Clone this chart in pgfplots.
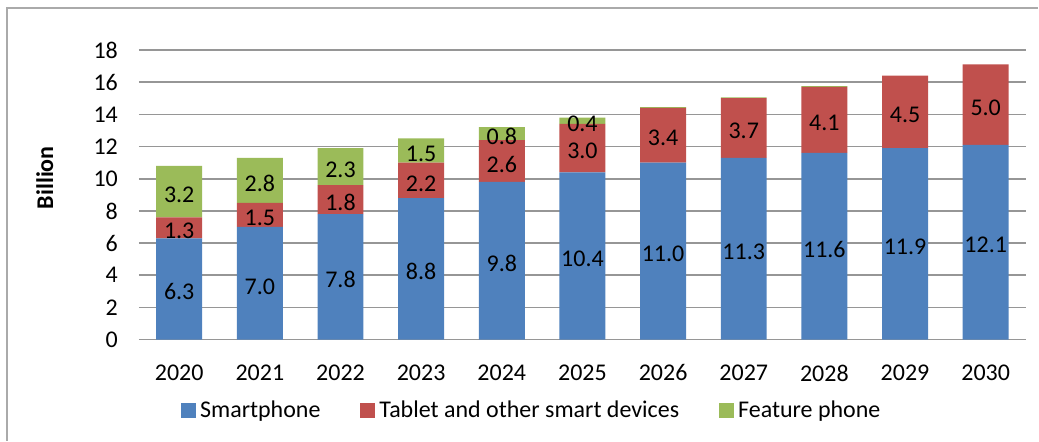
\documentclass[border=0pt]{standalone}
\usepackage{fontspec}
\setmainfont{Carlito}
\usepackage{pgfplots}
\pgfplotsset{compat=1.18}

\definecolor{cSmart}{RGB}{79,129,189}
\definecolor{cTab}{RGB}{192,80,77}
\definecolor{cFeat}{RGB}{155,187,89}
\definecolor{cGrid}{RGB}{150,150,150}
\definecolor{cFrame}{RGB}{170,170,170}

\begin{document}
\begin{tikzpicture}[font=\fontsize{12}{14}\selectfont]
% picture area, 1px = 0.5pt
\path (0,0) rectangle (519.5pt,220.5pt);
\draw[cFrame, line width=1pt] (3.5pt,0) -- (3.5pt,216.5pt) -- (519.5pt,216.5pt);

\begin{axis}[
    at={(69.5pt,50.5pt)}, anchor=south west,
    scale only axis,
    width=444pt, height=145pt,
    ybar stacked,
    bar width=23pt,
    xmin=-0.5, xmax=10.5,
    ymin=0, ymax=18,
    ytick={0,2,...,18},
    xtick=data,
    xticklabels={2020,2021,2022,2023,2024,2025,2026,2027,2028,2029,2030},
    ymajorgrids,
    grid style={cGrid, line width=0.8pt},
    axis line style={draw=none},
    major tick length=0pt,
    /pgf/number format/assume math mode=true,
    xticklabel style={yshift=-9pt},
    yticklabel style={xshift=-7pt},
    ylabel={Billion},
    ylabel style={at={(axis description cs:-0.106,0.559)}, anchor=center, font=\fontsize{12}{14}\selectfont\bfseries},
    legend style={at={(axis description cs:0.444,-0.245)}, anchor=center, draw=none, fill=none,
        legend columns=3, /tikz/every even column/.append style={column sep=18pt},
        font=\fontsize{12}{14}\selectfont},
    legend image code/.code={\fill[#1] (0pt,-3.5pt) rectangle (7.5pt,4pt);},
    visualization depends on=rawy \as \rawy,
    nodes near coords={\ifdim\rawy pt<0.2pt\relax\else\pgfmathprintnumber[fixed,fixed zerofill,precision=1]{\rawy}\fi},
    every node near coord/.append style={anchor=center, yshift=-1.5pt, text=black,
        font=\fontsize{12}{14}\selectfont},
]
\addplot[fill=cSmart, draw=none] coordinates {
    (0,6.3) (1,7.0) (2,7.8) (3,8.8) (4,9.8) (5,10.4)
    (6,11.0) (7,11.3) (8,11.6) (9,11.9) (10,12.1)
};
\addlegendentry{Smartphone}
\addplot[fill=cTab, draw=none] coordinates {
    (0,1.3) (1,1.5) (2,1.8) (3,2.2) (4,2.6) (5,3.0)
    (6,3.4) (7,3.7) (8,4.1) (9,4.5) (10,5.0)
};
\addlegendentry{Tablet and other smart devices}
\addplot[fill=cFeat, draw=none] coordinates {
    (0,3.2) (1,2.8) (2,2.3) (3,1.5) (4,0.8) (5,0.4)
    (6,0.05) (7,0.05) (8,0.05) (9,0) (10,0)
};
\addlegendentry{Feature phone}
\end{axis}
\end{tikzpicture}
\end{document}
